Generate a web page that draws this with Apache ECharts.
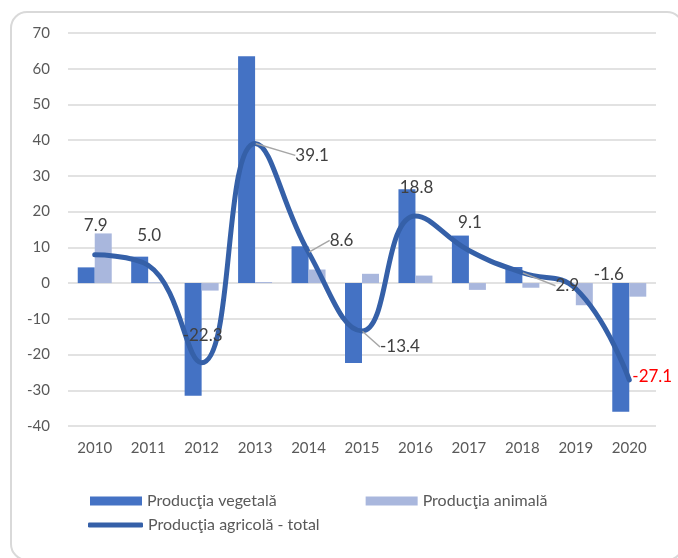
<!DOCTYPE html>
<html>
<head>
<meta charset="utf-8">
<script src="https://cdn.jsdelivr.net/npm/echarts@6/dist/echarts.min.js"></script>
<style>
  html, body { margin: 0; padding: 0; background: #fff; }
  #chart { width: 678px; height: 558px; }
</style>
</head>
<body>
<div id="chart"></div>
<script>
const years = ['2010', '2011', '2012', '2013', '2014', '2015', '2016', '2017', '2018', '2019', '2020']
const productieVegetala = [4.4, 7.4, -31.5, 63.5, 10.3, -22.4, 26.3, 13.3, 4.5, 0, -36.0]
const productieAnimala = [13.9, 0.2, -2.1, 0.3, 3.8, 2.6, 2.1, -1.9, -1.3, -6.2, -3.8]
const productieTotal = [7.9, 5.0, -22.3, 39.1, 8.6, -13.4, 18.8, 9.1, 2.9, -1.6, -27.1]

// label nudges (px), relative to the default 'top' position
const labelShift = [
    [1, -15], [1, -16], [1, -13], [57, 26], [33, 2], [38, 30],
    [1, -14], [1, -14], [45, 27], [33, 0], [23, 11]
]
const withLeader = [false, false, false, true, true, true, false, false, true, false, false]

const font = 'Lato, "Noto Sans", sans-serif'
const chart = echarts.init(document.getElementById('chart'))

const option = {
    animation: false,
    textStyle: { fontFamily: font },
    graphic: [{
        type: 'rect',
        shape: { x: 11, y: 12, width: 672, height: 548, r: 16 },
        style: { fill: 'none', stroke: '#D9D9D9', lineWidth: 2 },
        silent: true
    }],
    grid: { left: 68, right: 22, top: 33, bottom: 132 },
    legend: [
        {
            data: ['Producţia vegetală', 'Producţia animală'],
            left: 85, top: 488,
            itemWidth: 52, itemHeight: 9, itemGap: 89,
            icon: 'rect',
            textStyle: { color: '#595959', fontSize: 16, fontFamily: font }
        },
        {
            data: ['Producţia agricolă - total'],
            left: 83, top: 512,
            itemWidth: 55, itemHeight: 5,
            icon: 'roundRect',
            textStyle: { color: '#595959', fontSize: 16, fontFamily: font }
        }
    ],
    xAxis: {
        type: 'category',
        data: years,
        axisLine: { show: false },
        axisTick: { show: false },
        axisLabel: { color: '#595959', fontSize: 15, margin: 15 }
    },
    yAxis: {
        type: 'value',
        min: -40, max: 70, interval: 10,
        axisLine: { show: false },
        axisTick: { show: false },
        axisLabel: { color: '#595959', fontSize: 15, margin: 18 },
        splitLine: { lineStyle: { color: '#D9D9D9', width: 1.5 } }
    },
    series: [
        {
            name: 'Producţia vegetală',
            type: 'bar',
            barWidth: 17,
            barGap: '0%',
            itemStyle: { color: '#4472C4' },
            data: productieVegetala
        },
        {
            name: 'Producţia animală',
            type: 'bar',
            barWidth: 17,
            itemStyle: { color: '#A9B7DD' },
            data: productieAnimala
        },
        {
            name: 'Producţia agricolă - total',
            type: 'line',
            smooth: 0.45,
            symbol: 'circle',
            symbolSize: 1,
            itemStyle: { color: '#3560A8' },
            lineStyle: { color: '#3560A8', width: 5, cap: 'round' },
            label: {
                show: true,
                position: 'top',
                color: '#404040',
                fontSize: 17,
                formatter: p => p.value.toFixed(1)
            },
            labelLine: { lineStyle: { color: '#A6A6A6', width: 1.5 } },
            labelLayout: p => ({ dx: labelShift[p.dataIndex][0], dy: labelShift[p.dataIndex][1] }),
            data: productieTotal.map((v, i) => ({
                value: v,
                labelLine: { show: withLeader[i] },
                label: i === productieTotal.length - 1 ? { color: '#FF0000' } : {}
            }))
        }
    ]
}

chart.setOption(option)
</script>
</body>
</html>
